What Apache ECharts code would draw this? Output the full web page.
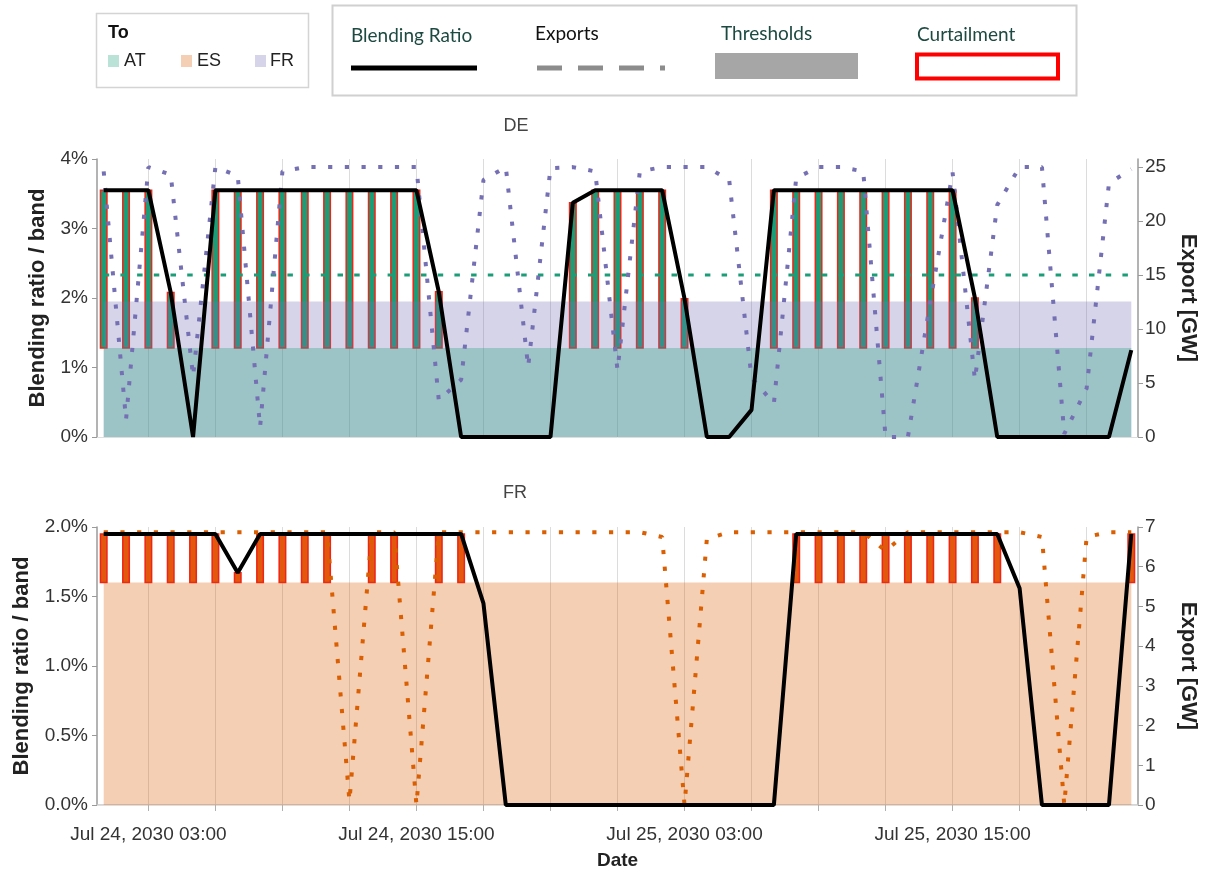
<!DOCTYPE html>
<html><head><meta charset="utf-8">
<script src="https://cdn.jsdelivr.net/npm/echarts@6/dist/echarts.min.js"></script>
<style>html,body{margin:0;padding:0;background:#fff}#c{width:1209px;height:875px}</style>
</head><body><div id="c"></div>
<script>
// ---------------- DATA ----------------
const times = [
 '2030-07-24T01:00','2030-07-24T02:00','2030-07-24T03:00','2030-07-24T04:00','2030-07-24T05:00','2030-07-24T06:00',
 '2030-07-24T07:00','2030-07-24T08:00','2030-07-24T09:00','2030-07-24T10:00','2030-07-24T11:00','2030-07-24T12:00',
 '2030-07-24T13:00','2030-07-24T14:00','2030-07-24T15:00','2030-07-24T16:00','2030-07-24T17:00','2030-07-24T18:00',
 '2030-07-24T19:00','2030-07-24T20:00','2030-07-24T21:00','2030-07-24T22:00','2030-07-24T23:00',
 '2030-07-25T00:00','2030-07-25T01:00','2030-07-25T02:00','2030-07-25T03:00','2030-07-25T04:00','2030-07-25T05:00',
 '2030-07-25T06:00','2030-07-25T07:00','2030-07-25T08:00','2030-07-25T09:00','2030-07-25T10:00','2030-07-25T11:00',
 '2030-07-25T12:00','2030-07-25T13:00','2030-07-25T14:00','2030-07-25T15:00','2030-07-25T16:00','2030-07-25T17:00',
 '2030-07-25T18:00','2030-07-25T19:00','2030-07-25T20:00','2030-07-25T21:00','2030-07-25T22:00','2030-07-25T23:00'
];
// DE blending ratio [%]
const deBlending = [3.55,3.55,3.55,2.08,0,3.55,3.55,3.55,3.55,3.55,3.55,3.55,3.55,3.55,3.55,2.09,
  0,0,0,0,0,3.37,3.55,3.55,3.55,3.55,1.99,0,0,0.39,3.55,3.55,3.55,3.55,3.55,3.55,3.55,3.55,3.55,2.0,
  0,0,0,0,0,0,1.25];
// DE curtailment (1 = curtailed hour)
const deCurtail = [1,1,1,1,0,1,1,1,1,1,1,1,1,1,1,1,0,0,0,0,0,1,1,1,1,1,1,0,0,0,1,1,1,1,1,1,1,1,1,1,0,0,0,0,0,0,0];
// DE exports [GW]
const deExportAT = [15,15,15,15,15,15,15,15,15,15,15,15,15,15,15,15,15,15,15,15,15,15,15,15,
  15,15,15,15,15,15,15,15,15,15,15,15,15,15,15,15,15,15,15,15,15,15,15];
const deExportFR = [24.6,1.6,25,24.3,5.6,25,24.2,0.9,24.6,25,25,25,25,25,25,3.4,5.3,23.8,25,6.5,24.9,25,24.6,6.2,
  24.6,25,25,25,23.8,5.5,3.1,24,25,25,24.6,0,0,12.5,24.5,5.3,21.5,25,25,0.3,4.5,23.5,24.8];
// DE thresholds [%]
const deThresholdAT = 1.28;
const deThresholdFR = 1.95;

// FR blending ratio [%]
const frBlending = [1.95,1.95,1.95,1.95,1.95,1.95,1.67,1.95,1.95,1.95,1.95,1.95,1.95,1.95,1.95,1.95,1.95,1.45,
  0,0,0,0,0,0,0,0,0,0,0,0,0,1.95,1.95,1.95,1.95,1.95,1.95,1.95,1.95,1.95,1.95,1.56,0,0,0,0,1.95];
const frCurtail = [1,1,1,1,1,1,1,1,1,1,1,0,1,1,0,1,1,0,0,0,0,0,0,0,0,0,0,0,0,0,0,1,1,1,1,1,1,1,1,1,1,0,0,0,0,0,1];
const frExportES = [6.87,6.87,6.87,6.87,6.87,6.87,6.87,6.87,6.87,6.87,6.87,0.1,6.87,6.87,0,6.87,6.87,6.87,6.87,
  6.87,6.87,6.87,6.87,6.87,6.87,6.75,0,6.7,6.87,6.87,6.87,6.87,6.87,6.87,6.87,6.4,6.87,6.87,6.87,6.87,6.87,6.87,
  6.75,0,6.75,6.87,6.87];
const frThresholdES = 1.6;

// axis ticks
const xTickHours = [3,6,9,12,15,18,21,24,27,30,33,36,39,42,45];
const xLabelHours = [3,15,27,39];
const xTickLabels = ['Jul 24, 2030 03:00','Jul 24, 2030 15:00','Jul 25, 2030 03:00','Jul 25, 2030 15:00'];
const xMin = 0.7, xMax = 47.3; // hours since Jul 24 00:00
const deExportTicks = [0,5,10,15,20,25];

// ---------------- BUILD ----------------
const t0 = Date.parse('2030-07-24T00:00Z');
const xh = times.map(t => (Date.parse(t + 'Z') - t0) / 3600000);
const pair = arr => xh.map((x, i) => [x, arr[i]]);
const constPair = v => xh.map(x => [x, v]);
const bars = (flags, thr, vals) => xh.map((x, i) => flags[i] ? [x, thr, vals[i]] : null).filter(Boolean);

const FONT = 'Liberation Sans';
const txt = {fontFamily: FONT, fontSize: 19, color: '#333'};
const nameStyle = {fontFamily: FONT, fontSize: 22, fontWeight: 'bold', color: '#222'};
const C_AT = '#1b9e77', C_ES = '#d95f02', C_FR = '#7570b3';

function barItem(fill) {
  return function (params, api) {
    const x = api.value(0), lo = api.value(1), hi = api.value(2);
    const p0 = api.coord([x, lo]), p1 = api.coord([x, hi]);
    const w = 6.5;
    return {type: 'rect', shape: {x: p0[0] - w / 2, y: p1[1], width: w, height: p0[1] - p1[1]},
      style: {fill: fill, stroke: '#ee2416', lineWidth: 1.5}};
  };
}

const gridTop = [159, 527];
const xAxes = [];
const yAxes = [];
[0, 1].forEach(g => {
  xAxes.push({
    type: 'value', gridIndex: g, min: xMin, max: xMax, position: 'bottom', offset: g === 1 ? 11 : 0,
    axisLine: {show: g === 1, lineStyle: {color: '#c8c8c8', width: 1.5}},
    axisTick: {show: g === 1, length: 6, lineStyle: {color: '#b0b0b0'}, customValues: xTickHours},
    axisLabel: {show: g === 1, ...txt, margin: 9, customValues: xLabelHours,
      formatter: v => { const k = xLabelHours.indexOf(Math.round(v)); return k >= 0 ? xTickLabels[k] : ''; }},
    splitLine: {show: true, lineStyle: {color: '#dcdcdc', width: 1}},
    name: g === 1 ? 'Date' : '', nameLocation: 'middle', nameGap: 35,
    nameTextStyle: {fontFamily: FONT, fontSize: 19, fontWeight: 'bold', color: '#222'}
  });
  xAxes.push({
    type: 'value', gridIndex: g, min: xMin, max: xMax, position: 'top',
    axisLine: {show: true, lineStyle: {color: '#dedede', width: 1}},
    axisTick: {show: false}, axisLabel: {show: false}, splitLine: {show: false}
  });
});
// y axes: 0 DE left, 1 DE right, 2 FR left, 3 FR right
yAxes.push({
  type: 'value', gridIndex: 0, position: 'left', min: 0, max: 4, interval: 1,
  axisLine: {show: true, lineStyle: {color: '#9a9a9a', width: 1.5}},
  axisTick: {show: true, length: 5, lineStyle: {color: '#9a9a9a'}},
  axisLabel: {...txt, margin: 9, formatter: v => v + '%'},
  splitLine: {show: false},
  name: 'Blending ratio / band', nameLocation: 'middle', nameRotate: 90, nameGap: 48,
  nameTextStyle: nameStyle
});
yAxes.push({
  type: 'value', gridIndex: 0, position: 'right', min: 0, max: 25.75,
  axisLine: {show: true, lineStyle: {color: '#9a9a9a', width: 1.5}},
  axisTick: {show: true, length: 5, lineStyle: {color: '#9a9a9a'}, customValues: deExportTicks},
  axisLabel: {...txt, margin: 7, customValues: deExportTicks},
  splitLine: {show: false},
  name: 'Export [GW]', nameLocation: 'middle', nameRotate: -90, nameGap: 39,
  nameTextStyle: nameStyle
});
yAxes.push({
  type: 'value', gridIndex: 1, position: 'left', min: 0, max: 2, interval: 0.5,
  axisLine: {show: true, lineStyle: {color: '#9a9a9a', width: 1.5}},
  axisTick: {show: true, length: 5, lineStyle: {color: '#9a9a9a'}},
  axisLabel: {...txt, margin: 9, formatter: v => v.toFixed(1) + '%'},
  splitLine: {show: false},
  name: 'Blending ratio / band', nameLocation: 'middle', nameRotate: 90, nameGap: 64,
  nameTextStyle: nameStyle
});
yAxes.push({
  type: 'value', gridIndex: 1, position: 'right', min: 0, max: 7, interval: 1,
  axisLine: {show: true, lineStyle: {color: '#9a9a9a', width: 1.5}},
  axisTick: {show: true, length: 5, lineStyle: {color: '#9a9a9a'}},
  axisLabel: {...txt, margin: 7},
  splitLine: {show: false},
  name: 'Export [GW]', nameLocation: 'middle', nameRotate: -90, nameGap: 39,
  nameTextStyle: nameStyle
});

const areaS = (xi, yi, data, color) => ({type: 'line', xAxisIndex: xi, yAxisIndex: yi, data: data, symbol: 'none',
  lineStyle: {width: 0, opacity: 0}, areaStyle: {color: color, opacity: 1, origin: 'start'}, silent: true, animation: false});
const lineS = (xi, yi, data, color, width, dash) => ({type: 'line', xAxisIndex: xi, yAxisIndex: yi, data: data,
  symbol: 'none', lineStyle: {color: color, width: width, type: dash || 'solid', cap: 'butt'}, animation: false, z: 3});
const barS = (xi, yi, data, fill) => ({type: 'custom', xAxisIndex: xi, yAxisIndex: yi, data: data,
  encode: {x: 0, y: [1, 2]}, renderItem: barItem(fill), animation: false, z: 2});

const series = [
  areaS(0, 0, constPair(deThresholdFR), 'rgba(117,112,179,0.3)'),
  areaS(0, 0, constPair(deThresholdAT), 'rgba(27,158,119,0.3)'),
  barS(0, 0, bars(deCurtail, deThresholdAT, deBlending), C_AT),
  lineS(0, 1, pair(deExportAT), C_AT, 3, [5.5, 11.2]),
  lineS(0, 1, pair(deExportFR), C_FR, 4, [4.2, 12.5]),
  lineS(0, 0, pair(deBlending), '#000', 4),
  areaS(2, 2, constPair(frThresholdES), 'rgba(217,95,2,0.3)'),
  barS(2, 2, bars(frCurtail, frThresholdES, frBlending), '#e2580c'),
  lineS(2, 3, pair(frExportES), C_ES, 4, [4.2, 12.5]),
  lineS(2, 2, pair(frBlending), '#000', 4)
];

const legendText = {fontFamily: 'Lato', fontSize: 19, fill: '#1d4a40'};
const graphic = [
  {type: 'rect', shape: {x: 96.5, y: 13.5, width: 212, height: 74}, style: {fill: '#fff', stroke: '#d4d4d4', lineWidth: 1.5}},
  {type: 'text', x: 108, y: 33, style: {text: 'To', fontFamily: FONT, fontSize: 18, fontWeight: 'bold', fill: '#111', verticalAlign: 'middle'}},
  {type: 'rect', shape: {x: 108, y: 55, width: 11, height: 12}, style: {fill: 'rgba(27,158,119,0.3)'}},
  {type: 'text', x: 124, y: 61, style: {text: 'AT', fontFamily: FONT, fontSize: 18, fill: '#222', verticalAlign: 'middle'}},
  {type: 'rect', shape: {x: 181, y: 55, width: 11, height: 12}, style: {fill: 'rgba(217,95,2,0.3)'}},
  {type: 'text', x: 197, y: 61, style: {text: 'ES', fontFamily: FONT, fontSize: 18, fill: '#222', verticalAlign: 'middle'}},
  {type: 'rect', shape: {x: 255, y: 55, width: 11, height: 12}, style: {fill: 'rgba(117,112,179,0.3)'}},
  {type: 'text', x: 270, y: 61, style: {text: 'FR', fontFamily: FONT, fontSize: 18, fill: '#222', verticalAlign: 'middle'}},

  {type: 'rect', shape: {x: 332.5, y: 5.5, width: 744, height: 90}, style: {fill: '#fff', stroke: '#d0d0d0', lineWidth: 2}},
  {type: 'text', x: 351, y: 36, style: {...legendText, text: 'Blending Ratio', verticalAlign: 'middle'}},
  {type: 'line', shape: {x1: 351, y1: 68, x2: 477, y2: 68}, style: {stroke: '#000', lineWidth: 5}},
  {type: 'text', x: 535, y: 34, style: {...legendText, fill: '#111', text: 'Exports', verticalAlign: 'middle'}},
  {type: 'line', shape: {x1: 537, y1: 68, x2: 665, y2: 68}, style: {stroke: '#8c8c8c', lineWidth: 5, lineDash: [25, 16]}},
  {type: 'text', x: 721, y: 34, style: {...legendText, text: 'Thresholds', verticalAlign: 'middle'}},
  {type: 'rect', shape: {x: 715, y: 53, width: 143, height: 26}, style: {fill: '#a6a6a6'}},
  {type: 'text', x: 917, y: 35, style: {...legendText, text: 'Curtailment', verticalAlign: 'middle'}},
  {type: 'rect', shape: {x: 917, y: 54.5, width: 141, height: 24}, style: {fill: '#fff', stroke: '#ff0000', lineWidth: 4}}
];

const chart = echarts.init(document.getElementById('c'), null, {renderer: 'canvas'});
chart.setOption({
  backgroundColor: '#fff',
  animation: false,
  title: [
    {text: 'DE', left: 511, top: 112, textAlign: 'center', textStyle: {fontFamily: FONT, fontSize: 18, fontWeight: 'normal', color: '#444'}},
    {text: 'FR', left: 510, top: 479, textAlign: 'center', textStyle: {fontFamily: FONT, fontSize: 18, fontWeight: 'normal', color: '#444'}}
  ],
  grid: [
    {left: 97, right: 71, top: gridTop[0], height: 278, containLabel: false, outerBoundsMode: 'none'},
    {left: 97, right: 71, top: gridTop[1], height: 278, containLabel: false, outerBoundsMode: 'none'}
  ],
  xAxis: xAxes,
  yAxis: yAxes,
  series: series,
  graphic: graphic
});
</script>
</body></html>
